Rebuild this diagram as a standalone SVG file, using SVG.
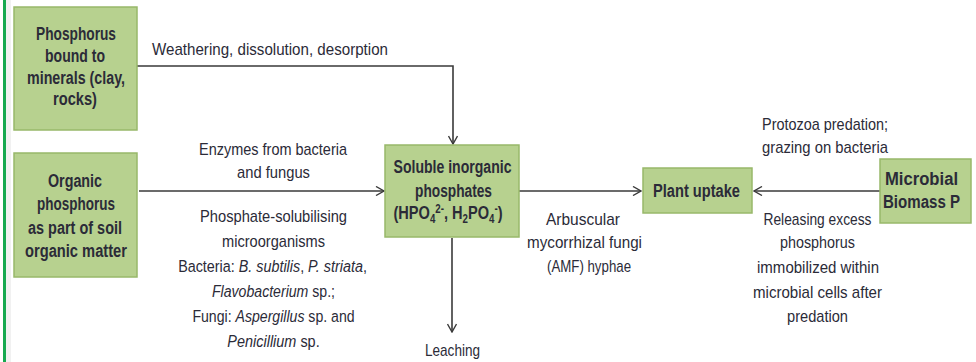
<svg xmlns="http://www.w3.org/2000/svg" width="976" height="362" viewBox="0 0 976 362">
<style>
.box{fill:#b7d18f;stroke:#98b86a;stroke-width:1.5}
.bt{font-family:"Liberation Sans",Arial,sans-serif;font-weight:bold;font-size:18px;fill:#2b2b38;text-anchor:middle}
.lt{font-family:"Liberation Sans",Arial,sans-serif;font-size:17px;fill:#2b2b38;text-anchor:middle}
.ln{fill:none;stroke:#3a3a3a;stroke-width:1.6}
.it{font-style:italic}
</style>
<defs>
<marker id="ah" viewBox="0 0 10 10" refX="9" refY="5" markerWidth="10" markerHeight="10" markerUnits="userSpaceOnUse" orient="auto">
<path d="M1,0.5 L9,5 L1,9.5" fill="none" stroke="#3a3a3a" stroke-width="1.4"/>
</marker>
</defs>
<rect x="0" y="0" width="976" height="362" fill="#ffffff"/>
<rect x="6" y="0" width="5" height="362" fill="#f1f1f1"/>
<rect x="3" y="0" width="3" height="362" fill="#16a94f"/>

<g id="connectors">
<path class="ln" d="M137,66 H453 V144" marker-end="url(#ah)"/>
<path class="ln" d="M139,191 H384" marker-end="url(#ah)"/>
<path class="ln" d="M519,191 H641" marker-end="url(#ah)"/>
<path class="ln" d="M880,191 H754" marker-end="url(#ah)"/>
<path class="ln" d="M452,238 V332" marker-end="url(#ah)"/>
<text class="lt" x="270" y="55" textLength="236" lengthAdjust="spacingAndGlyphs">Weathering, dissolution, desorption</text>
<text class="lt" x="273" y="155" textLength="148" lengthAdjust="spacingAndGlyphs">Enzymes from bacteria</text>
<text class="lt" x="273.5" y="178" textLength="73" lengthAdjust="spacingAndGlyphs">and fungus</text>
<text class="lt" x="273.5" y="222" textLength="147" lengthAdjust="spacingAndGlyphs">Phosphate-solubilising</text>
<text class="lt" x="273.5" y="247" textLength="103" lengthAdjust="spacingAndGlyphs">microorganisms</text>
<text class="lt" transform="translate(272.5,272) scale(0.845,1)">Bacteria: <tspan class="it">B. subtilis</tspan>, <tspan class="it">P. striata</tspan>,</text>
<text class="lt" transform="translate(273.5,297) scale(0.83,1)"><tspan class="it">Flavobacterium</tspan> sp.;</text>
<text class="lt" transform="translate(273.5,322) scale(0.83,1)">Fungi: <tspan class="it">Aspergillus</tspan> sp. and</text>
<text class="lt" transform="translate(273.5,347) scale(0.85,1)"><tspan class="it">Penicillium</tspan> sp.</text>
<text class="lt" x="583" y="225" textLength="74" lengthAdjust="spacingAndGlyphs">Arbuscular</text>
<text class="lt" x="584.5" y="248" textLength="115" lengthAdjust="spacingAndGlyphs">mycorrhizal fungi</text>
<text class="lt" x="589" y="272" textLength="84" lengthAdjust="spacingAndGlyphs">(AMF) hyphae</text>
<text class="lt" x="452.5" y="356" textLength="55" lengthAdjust="spacingAndGlyphs">Leaching</text>
<text class="lt" x="825" y="130" textLength="126" lengthAdjust="spacingAndGlyphs">Protozoa predation;</text>
<text class="lt" x="825" y="153" textLength="126" lengthAdjust="spacingAndGlyphs">grazing on bacteria</text>
<text class="lt" x="817.5" y="225" textLength="108" lengthAdjust="spacingAndGlyphs">Releasing excess</text>
<text class="lt" x="817.5" y="248" textLength="75" lengthAdjust="spacingAndGlyphs">phosphorus</text>
<text class="lt" x="818" y="273" textLength="122" lengthAdjust="spacingAndGlyphs">immobilized within</text>
<text class="lt" x="817.5" y="298" textLength="129" lengthAdjust="spacingAndGlyphs">microbial cells after</text>
<text class="lt" x="817.5" y="322" textLength="61" lengthAdjust="spacingAndGlyphs">predation</text>
</g>

<g id="minerals">
<rect class="box" x="14" y="7" width="123" height="123"/>
<text class="bt" x="76" y="40" textLength="80" lengthAdjust="spacingAndGlyphs">Phosphorus</text>
<text class="bt" x="75" y="62" textLength="60" lengthAdjust="spacingAndGlyphs">bound to</text>
<text class="bt" x="76" y="84" textLength="98" lengthAdjust="spacingAndGlyphs">minerals (clay,</text>
<text class="bt" x="75" y="105" textLength="44" lengthAdjust="spacingAndGlyphs">rocks)</text>
</g>

<g id="organic">
<rect class="box" x="14" y="153" width="123" height="124"/>
<text class="bt" x="75" y="187" textLength="54" lengthAdjust="spacingAndGlyphs">Organic</text>
<text class="bt" x="76" y="210" textLength="78" lengthAdjust="spacingAndGlyphs">phosphorus</text>
<text class="bt" x="75" y="234" textLength="94" lengthAdjust="spacingAndGlyphs">as part of soil</text>
<text class="bt" x="76" y="257" textLength="102" lengthAdjust="spacingAndGlyphs">organic matter</text>
</g>

<g id="soluble">
<rect class="box" x="385" y="145" width="134" height="92"/>
<text class="bt" x="452.5" y="173" textLength="118" lengthAdjust="spacingAndGlyphs">Soluble inorganic</text>
<text class="bt" x="453.5" y="197" textLength="77" lengthAdjust="spacingAndGlyphs">phosphates</text>
<text class="bt" transform="translate(448,219) scale(0.81,1)">(HPO<tspan font-size="12" dy="4">4</tspan><tspan font-size="12" dy="-10">2-</tspan><tspan dy="6">, H</tspan><tspan font-size="12" dy="4">2</tspan><tspan dy="-4">PO</tspan><tspan font-size="12" dy="4">4</tspan><tspan font-size="12" dy="-10">-</tspan><tspan dy="6">)</tspan></text>
</g>

<g id="plant">
<rect class="box" x="643" y="168" width="109" height="45"/>
<text class="bt" x="696.5" y="197" textLength="87" lengthAdjust="spacingAndGlyphs">Plant uptake</text>
</g>

<g id="microbial">
<rect class="box" x="880" y="159" width="91" height="64"/>
<text class="bt" x="921.5" y="185" textLength="73" lengthAdjust="spacingAndGlyphs">Microbial</text>
<text class="bt" x="921.5" y="208" textLength="77" lengthAdjust="spacingAndGlyphs">Biomass P</text>
</g>
</svg>
